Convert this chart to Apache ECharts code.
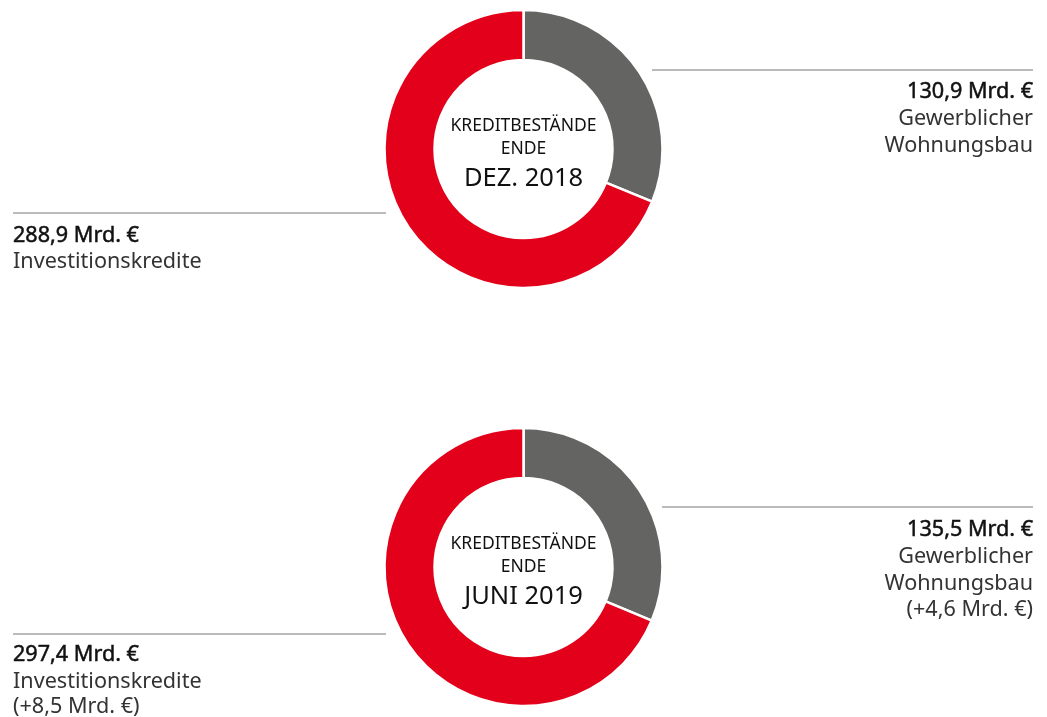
<!DOCTYPE html>
<html>
<head>
<meta charset="utf-8">
<script src="https://cdn.jsdelivr.net/npm/echarts@6/dist/echarts.min.js"></script>
<style>
  html, body { margin: 0; padding: 0; background: #fff; }
  #main { width: 1047px; height: 717px; }
</style>
</head>
<body>
<div id="main"></div>
<script>
var categories = ['Gewerblicher Wohnungsbau', 'Investitionskredite'];
var periods = ['DEZ. 2018', 'JUNI 2019'];
var gewerblich = [130.9, 135.5];
var investition = [288.9, 297.4];
var gewerblichDelta = [null, 4.6];
var investitionDelta = [null, 8.5];

var myChart = echarts.init(document.getElementById('main'));
var FONT = '"Noto Sans", sans-serif';
var fmt = function (v) { return v.toFixed(1).replace('.', ','); };

var cy = [149, 567];
var series = [];
var graphic = [];

periods.forEach(function (p, i) {
  series.push({
    type: 'pie',
    center: [523.5, cy[i]],
    radius: [89, 139],
    startAngle: 90,
    silent: true,
    label: { show: false },
    labelLine: { show: false },
    itemStyle: { borderColor: '#fff', borderWidth: 2.5 },
    data: [
      { name: categories[0], value: gewerblich[i], itemStyle: { color: '#646463' } },
      { name: categories[1], value: investition[i], itemStyle: { color: '#e2001a' } }
    ]
  });

  // centre text
  graphic.push({
    type: 'text', x: 523.5, y: cy[i] - 22.5,
    style: { text: 'KREDITBESTÄNDE', fill: '#111', font: '17.5px ' + FONT, align: 'center', verticalAlign: 'middle' }
  });
  graphic.push({
    type: 'text', x: 523.5, y: cy[i] + 0.5,
    style: { text: 'ENDE', fill: '#111', font: '17.5px ' + FONT, align: 'center', verticalAlign: 'middle' }
  });
  graphic.push({
    type: 'text', x: 523.5, y: cy[i] + 29.5,
    style: { text: p, fill: '#111', font: '25.5px ' + FONT, align: 'center', verticalAlign: 'middle' }
  });
});

// side labels
var rLineY = [70, 507];
var rLineX0 = [652, 662];
var rTextY = [92, 530];
var lLineY = [213, 634];
var lTextY = [235.5, 655];
var SIZE = '21.6px ';
periods.forEach(function (p, i) {
  graphic.push({
    type: 'line', shape: { x1: rLineX0[i], y1: rLineY[i], x2: 1033, y2: rLineY[i] },
    style: { stroke: '#777', lineWidth: 1 }
  });
  var rLines = ['Gewerblicher', 'Wohnungsbau'];
  if (gewerblichDelta[i] != null) rLines.push('(+' + fmt(gewerblichDelta[i]) + ' Mrd. €)');
  graphic.push({
    type: 'text', x: 1033, y: rTextY[i],
    style: { text: fmt(gewerblich[i]) + ' Mrd. €', fill: '#111', stroke: '#111', lineWidth: 0.5, font: SIZE + FONT, align: 'right', verticalAlign: 'middle' }
  });
  rLines.forEach(function (t, k) {
    graphic.push({
      type: 'text', x: 1033, y: rTextY[i] + 27 + k * 26.5,
      style: { text: t, fill: '#333', font: SIZE + FONT, align: 'right', verticalAlign: 'middle' }
    });
  });

  graphic.push({
    type: 'line', shape: { x1: 13, y1: lLineY[i], x2: 386, y2: lLineY[i] },
    style: { stroke: '#777', lineWidth: 1 }
  });
  var lLines = ['Investitionskredite'];
  if (investitionDelta[i] != null) lLines.push('(+' + fmt(investitionDelta[i]) + ' Mrd. €)');
  graphic.push({
    type: 'text', x: 13, y: lTextY[i],
    style: { text: fmt(investition[i]) + ' Mrd. €', fill: '#111', stroke: '#111', lineWidth: 0.5, font: SIZE + FONT, align: 'left', verticalAlign: 'middle' }
  });
  lLines.forEach(function (t, k) {
    graphic.push({
      type: 'text', x: 13, y: lTextY[i] + 26.5 + k * 25.5,
      style: { text: t, fill: '#333', font: SIZE + FONT, align: 'left', verticalAlign: 'middle' }
    });
  });
});

myChart.setOption({
  animation: false,
  backgroundColor: '#fff',
  series: series,
  graphic: graphic
});
window.onresize = myChart.resize;
</script>
</body>
</html>
